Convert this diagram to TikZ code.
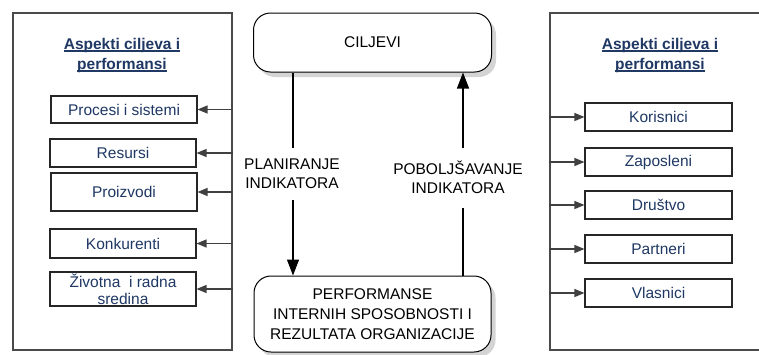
\documentclass[tikz,border=0pt]{standalone}
\usepackage{fontspec}
\setmainfont{Liberation Sans}
\usetikzlibrary{shadows,arrows.meta}
\definecolor{navy}{HTML}{1F3864}
\definecolor{framegray}{HTML}{4A4A4A}
\newsavebox\ulbox
\newcommand\myul[1]{\sbox\ulbox{#1}\rlap{\rule[-2.6pt]{\wd\ulbox}{1.3pt}}\usebox\ulbox}
\begin{document}
\begin{tikzpicture}[x=1pt,y=-1pt,
  font=\fontsize{15.5}{20}\selectfont,
  outer/.style={draw=framegray, line width=1.3pt, minimum width=219pt, minimum height=337pt, inner sep=0pt},
  item/.style={draw=black!85, line width=1.1pt, fill=white, text=navy, minimum width=146pt, inner sep=0pt, align=center,
    drop shadow={shadow xshift=0.8pt, shadow yshift=-0.8pt, fill=black!45, opacity=1}},
  title/.style={text=navy, font=\fontsize{15.5}{20}\selectfont\bfseries, align=center, inner sep=0pt},
  round/.style={draw=black, line width=1pt, fill=white, rounded corners=17pt, inner sep=0pt, align=center,
    drop shadow={shadow xshift=4.5pt, shadow yshift=-5pt, fill=black!17, opacity=1}},
  lbl/.style={align=center, inner sep=0pt, font=\fontsize{15.5}{19}\selectfont},
  conn/.style={line width=1.2pt, draw=black!75},
  bigconn/.style={line width=1.3pt, draw=black},
  tip/.style={-{Triangle[length=10pt,width=8pt]}},
  bigtip/.style={-{Triangle[length=16pt,width=12pt]}}
]
\useasboundingbox (0,0) rectangle (759,354);
\fill[white] (0,0) rectangle (759,354);

% outer frames
\node[outer] (lframe) at (122.5,181.5) {};
\node[outer, minimum width=222pt] (rframe) at (661,181.5) {};

% titles
\node[title] (ltitle) at (122,55) {\myul{Aspekti ciljeva i}\\\myul{performansi}};
\node[title] (rtitle) at (660,55) {\myul{Aspekti ciljeva i}\\\myul{performansi}};

% left items
\node[item, minimum height=27pt] (procesi) at (124,109.5) {Procesi i sistemi};
\node[item, minimum height=28pt] (resursi) at (123,153) {Resursi};
\node[item, minimum height=38pt] (proizvodi) at (124,192) {Proizvodi};
\node[item, minimum height=29pt] (konkurenti) at (123,243.5) {Konkurenti};
\node[item, minimum height=34pt, font=\fontsize{15.5}{17}\selectfont] (zivotna) at (123,289) {Životna\ \ i radna\\sredina};

% right items
\node[item, minimum height=28pt, minimum width=147pt] (korisnici) at (658.5,117) {Korisnici};
\node[item, minimum height=28pt, minimum width=147pt] (zaposleni) at (658.5,162) {Zaposleni};
\node[item, minimum height=28pt, minimum width=147pt] (drustvo) at (658.5,205) {Društvo};
\node[item, minimum height=28pt, minimum width=147pt] (partneri) at (658.5,249) {Partneri};
\node[item, minimum height=28pt, minimum width=147pt] (vlasnici) at (658.5,293) {Vlasnici};

% side arrows
\foreach \n in {procesi,resursi,proizvodi,konkurenti,zivotna}
  \draw[conn,tip] (\n.east -| lframe.east) -- (\n.east);
\foreach \n in {korisnici,zaposleni,drustvo,partneri,vlasnici}
  \draw[conn,tip] (\n.west -| rframe.west) -- (\n.west);

% centre boxes
\node[round, minimum width=238pt, minimum height=59pt] (ciljevi) at (372.5,42.5) {CILJEVI};
\node[round, minimum width=237pt, minimum height=76pt] (perf) at (372.5,314)
  {PERFORMANSE\\INTERNIH SPOSOBNOSTI I\\REZULTATA ORGANIZACIJE};

% labels
\node[lbl] (plan) at (292,174) {PLANIRANJE\\INDIKATORA};
\node[lbl] (pob) at (458,177.5) {POBOLJŠAVANJE\\INDIKATORA};

\coordinate (planA) at (293,148);
\coordinate (planB) at (293,200);
\coordinate (pobA) at (463,148);
\coordinate (pobB) at (463,208);

\draw[bigconn] (ciljevi.south -| planA) -- (planA);
\draw[bigconn,bigtip] (planB) -- (perf.north -| planB);
\draw[bigconn] (perf.north -| pobB) -- (pobB);
\draw[bigconn,bigtip] (pobA) -- (ciljevi.south -| pobA);
\end{tikzpicture}
\end{document}
